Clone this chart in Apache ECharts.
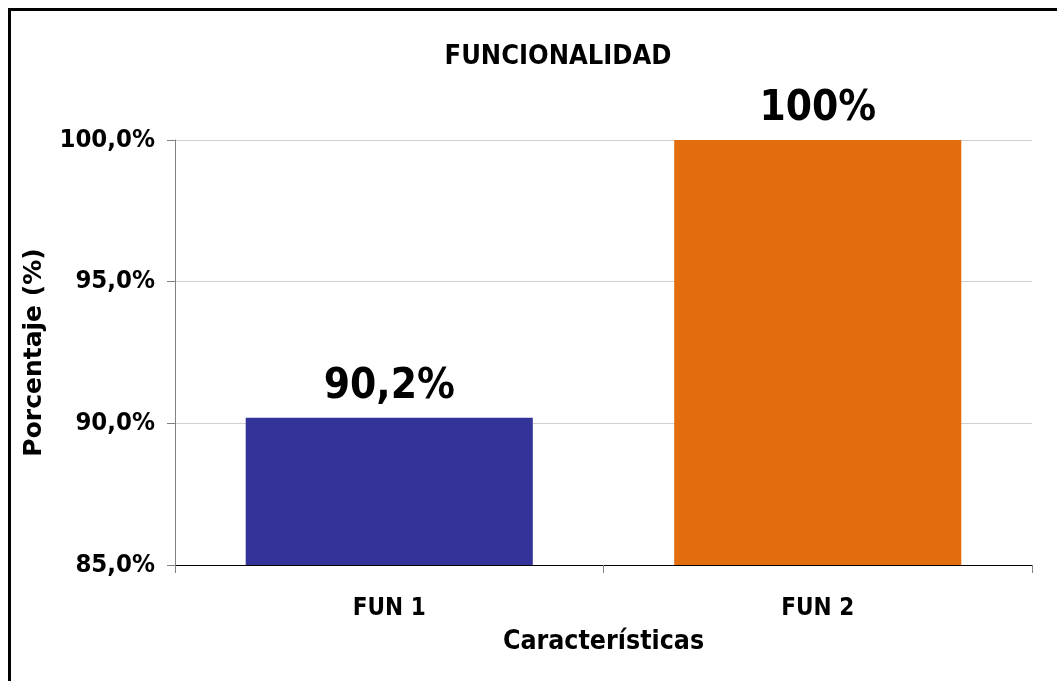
<!DOCTYPE html>
<html>
<head>
<meta charset="utf-8">
<script src="https://cdn.jsdelivr.net/npm/echarts@6/dist/echarts.min.js"></script>
<style>
	html, body { margin: 0; padding: 0; background: #fff; }
	#chart { width: 1057px; height: 681px; }
</style>
</head>
<body>
<div id="chart"></div>
<script>
	// datos
	var categorias = ['FUN 1', 'FUN 2'];
	var valores = [90.2, 100];
	var etiquetas = ['90,2%', '100%'];
	var colores = ['#333399', '#E36C0D'];

	var fuente = '"DejaVu Sans Condensed", "DejaVu Sans", sans-serif';
	var fuenteAncha = '"DejaVu Sans", sans-serif';
	var myChart = echarts.init(document.getElementById('chart'));

	var option = {
		animation: false,
		backgroundColor: '#fff',
		textStyle: { fontFamily: fuente },
		title: {
			text: 'FUNCIONALIDAD',
			left: 553,
			textAlign: 'center',
			top: 38,
			textStyle: { fontFamily: fuente, fontSize: 27, fontWeight: 'bold', color: '#000' }
		},
		graphic: [{
			type: 'rect',
			shape: { x: 9.5, y: 9.5, width: 1200, height: 800 },
			style: { fill: 'none', stroke: '#000', lineWidth: 3 }
		}],
		grid: { left: 175, right: 25, top: 140, bottom: 116 },
		xAxis: {
			type: 'category',
			data: categorias,
			name: 'Características',
			nameLocation: 'middle',
			nameGap: 64,
			nameTextStyle: { fontFamily: fuente, fontSize: 26.5, fontWeight: 'bold', color: '#000' },
			axisLine: { lineStyle: { color: '#000', width: 1 } },
			axisTick: { show: true, length: 8, lineStyle: { color: '#808080' } },
			axisLabel: { fontFamily: fuente, fontSize: 24, fontWeight: 'bold', color: '#000', margin: 32 }
		},
		yAxis: {
			type: 'value',
			min: 85,
			max: 100,
			interval: 5,
			name: 'Porcentaje (%)',
			nameLocation: 'middle',
			nameGap: 128,
			nameRotate: 90,
			nameTextStyle: { fontFamily: fuenteAncha, fontSize: 25, fontWeight: 'bold', color: '#000' },
			axisLine: { show: true, lineStyle: { color: '#808080' } },
			axisTick: { show: true, length: 8, lineStyle: { color: '#808080' } },
			splitLine: { lineStyle: { color: '#d0d0d0' } },
			axisLabel: {
				fontFamily: fuente, fontSize: 25.5, fontWeight: 'bold', color: '#000', margin: 20,
				formatter: function (v) { return v.toFixed(1).replace('.', ',') + '%'; }
			}
		},
		series: [{
			type: 'bar',
			barWidth: '67%',
			data: valores.map(function (v, i) {
				return { value: v, itemStyle: { color: colores[i] } };
			}),
			label: {
				show: true,
				position: 'top',
				distance: 10,
				fontFamily: fuente,
				fontSize: 42,
				fontWeight: 'bold',
				color: '#000',
				formatter: function (p) { return etiquetas[p.dataIndex]; }
			}
		}]
	};
	myChart.setOption(option);
</script>
</body>
</html>
